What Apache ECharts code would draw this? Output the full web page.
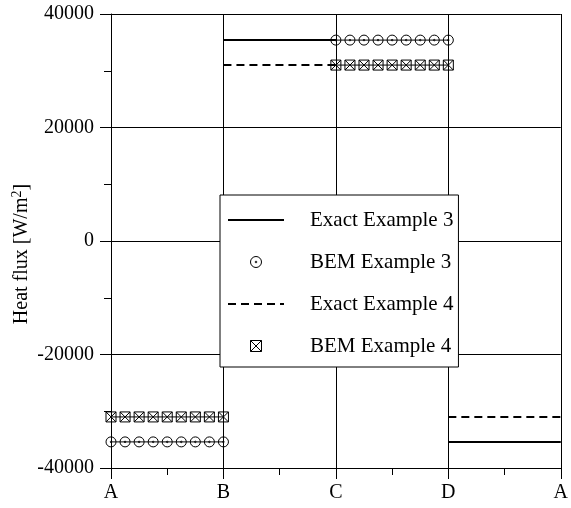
<!DOCTYPE html>
<html>
<head>
<meta charset="utf-8">
<script src="https://cdn.jsdelivr.net/npm/echarts@6/dist/echarts.min.js"></script>
<style>html,body{margin:0;padding:0;background:#fff}#c{width:571px;height:508px}</style>
</head>
<body>
<div id="c"></div>
<script>
// Tick labels for x positions 0..4
const xTickLabels = ['A', 'B', 'C', 'D', 'A'];
const yTicks = [-40000, -20000, 0, 20000, 40000];

// Exact solutions (piecewise constant, visible parts)
const exact3 = [[1, 35400], [2, 35400], [2.5, null], [3, -35400], [4, -35400]];
const exact4 = [[1, 31000], [2, 31000], [2.5, null], [3, -31000], [4, -31000]];

// BEM node positions and values
const bemX = [0, 0.125, 0.25, 0.375, 0.5, 0.625, 0.75, 0.875, 1,
              2, 2.125, 2.25, 2.375, 2.5, 2.625, 2.75, 2.875, 3];
const bem3 = [-35400, -35400, -35400, -35400, -35400, -35400, -35400, -35400, -35400,
              35400, 35400, 35400, 35400, 35400, 35400, 35400, 35400, 35400];
const bem4 = [-31000, -31000, -31000, -31000, -31000, -31000, -31000, -31000, -31000,
              31000, 31000, 31000, 31000, 31000, 31000, 31000, 31000, 31000];

const circDot = 'path://M10,0A10,10 0 1,1 10,20A10,10 0 1,1 10,0Z M10,8.5A1.5,1.5 0 1,1 10,11.5A1.5,1.5 0 1,1 10,8.5Z';
const sqX = 'path://M0,0L20,0L20,20L0,20Z M0,0L20,20 M20,0L0,20';

function pairs(xs, ys) {
  const out = [];
  for (let i = 0; i < xs.length; i++) {
    if (i > 0 && xs[i] - xs[i - 1] > 0.5) out.push([(xs[i] + xs[i - 1]) / 2, null]);
    out.push([xs[i], ys[i]]);
  }
  return out;
}

const FONT = "'Liberation Serif','Times New Roman',serif";
const chart = echarts.init(document.getElementById('c'));
const symStyle = { color: 'transparent', borderColor: '#000', borderWidth: 1 };
const hidden = { opacity: 0, color: 'transparent', borderWidth: 0 };

chart.setOption({
  animation: false,
  backgroundColor: '#fff',
  grid: { left: 111, right: 6, top: 14, bottom: 40, containLabel: false },
  xAxis: {
    type: 'value', min: 0, max: 4, interval: 1,
    axisLine: { show: true, onZero: false, lineStyle: { color: '#000', width: 1 } },
    axisTick: { show: true, inside: false, length: 11, lineStyle: { color: '#000' } },
    minorTick: { show: true, splitNumber: 2, length: 7, lineStyle: { color: '#000' } },
    splitLine: { show: true, lineStyle: { color: '#000', width: 1 } },
    axisLabel: { color: '#000', fontFamily: FONT, fontSize: 20, margin: 15,
      formatter: v => xTickLabels[Math.round(v)] }
  },
  yAxis: {
    type: 'value', min: yTicks[0], max: yTicks[yTicks.length - 1], interval: 20000,
    axisLine: { show: true, lineStyle: { color: '#000', width: 1 } },
    axisTick: { show: true, inside: false, length: 11, lineStyle: { color: '#000' } },
    minorTick: { show: true, splitNumber: 2, length: 7, lineStyle: { color: '#000' } },
    splitLine: { show: true, lineStyle: { color: '#000', width: 1 } },
    axisLabel: { color: '#000', fontFamily: FONT, fontSize: 20, margin: 17,
      formatter: v => String(v) }
  },
  legend: {
    orient: 'vertical', left: 220, top: 195,
    backgroundColor: '#fff', borderColor: '#000', borderWidth: 1, borderRadius: 0,
    padding: [14, 5, 10, 7],
    itemWidth: 56, itemHeight: 11, itemGap: 20,
    textStyle: { color: '#000', fontFamily: FONT, fontSize: 21, lineHeight: 22, padding: [0, 0, 0, 21] },
    data: [
      { name: 'Exact Example 3', itemStyle: hidden },
      { name: 'BEM Example 3', icon: circDot, itemStyle: symStyle },
      { name: 'Exact Example 4', itemStyle: hidden },
      { name: 'BEM Example 4', icon: sqX, itemStyle: symStyle }
    ]
  },
  graphic: [{
    type: 'text', x: 22, y: 254, rotation: Math.PI / 2,
    style: {
      text: 'Heat flux [W/m{sup|2}]', fill: '#000',
      font: "20px " + FONT, align: 'center', verticalAlign: 'middle',
      rich: { sup: { fontSize: 14, fontFamily: FONT, verticalAlign: 'top', padding: [0, 0, 10, 0] } }
    }
  }],
  series: [
    { name: 'Exact Example 3', type: 'line', data: exact3, showSymbol: false, symbol: 'none',
      lineStyle: { color: '#000', width: 2 }, itemStyle: { color: '#000' }, connectNulls: false },
    { name: 'Exact Example 4', type: 'line', data: exact4, showSymbol: false, symbol: 'none',
      lineStyle: { color: '#000', width: 2, type: [8, 5] }, itemStyle: { color: '#000' }, connectNulls: false },
    { name: 'BEM Example 3', type: 'line', data: pairs(bemX, bem3), symbol: circDot, symbolSize: 10,
      showAllSymbol: true, lineStyle: { color: '#000', width: 1 }, itemStyle: symStyle, connectNulls: false },
    { name: 'BEM Example 4', type: 'line', data: pairs(bemX, bem4), symbol: sqX, symbolSize: 10,
      showAllSymbol: true, lineStyle: { color: '#000', width: 1 }, itemStyle: symStyle, connectNulls: false }
  ]
});
</script>
</body>
</html>
